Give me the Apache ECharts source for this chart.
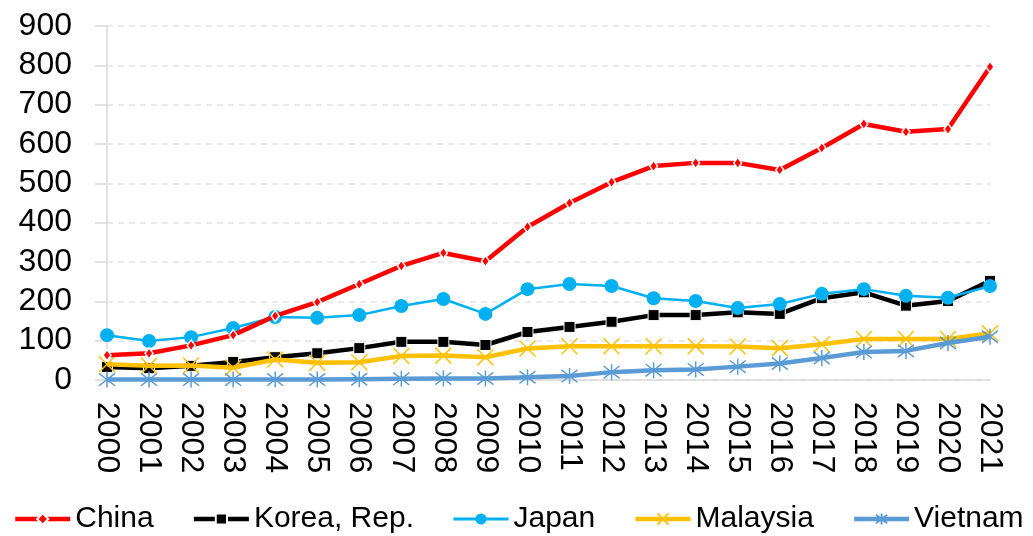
<!DOCTYPE html>
<html>
<head>
<meta charset="utf-8">
<script src="https://cdn.jsdelivr.net/npm/echarts@6/dist/echarts.min.js"></script>
<style>
  html, body { margin: 0; padding: 0; background: #fff; }
  #chart { width: 1033px; height: 536px; }
</style>
</head>
<body>
<div id="chart"></div>
<script>
// ======================
// DATA
// ======================
const years = ["2000", "2001", "2002", "2003", "2004", "2005", "2006", "2007", "2008", "2009", "2010",
    "2011", "2012", "2013", "2014", "2015", "2016", "2017", "2018", "2019", "2020", "2021"];

const china = [63, 68, 88, 114, 163, 198, 244, 290, 323, 302, 389,
    450, 503, 544, 552, 552, 534, 590, 651, 631, 638, 796];
const korea = [33, 30, 36, 46, 58, 68, 81, 97, 97, 89, 122,
    135, 148, 165, 165, 172, 168, 208, 223, 189, 201, 252];
const japan = [114, 99, 109, 132, 160, 158, 165, 188, 206, 168, 231,
    244, 239, 208, 201, 183, 193, 219, 231, 214, 209, 239];
const malaysia = [40, 36, 37, 31, 52, 44, 45, 61, 62, 58, 80,
    86, 86, 86, 86, 85, 81, 91, 104, 104, 104, 119];
const vietnam = [1, 1, 1, 1, 1, 1, 2, 3, 4, 4, 7,
    10, 20, 25, 27, 34, 42, 56, 71, 74, 94, 110];

// ======================
// STYLE
// ======================
const FONT = "'Liberation Sans', Arial, sans-serif";
const X_MARK = "path://M0,0L10,10M10,0L0,10";
const STAR_MARK = "path://M0,0L10,10M10,0L0,10M5,-1.5L5,11.5";

const chart = echarts.init(document.getElementById("chart"));
chart.setOption({
    backgroundColor: "#ffffff",
    animation: false,
    textStyle: { fontFamily: FONT, color: "#000" },
    grid: { left: 107, right: 43, top: 26, bottom: 156 },
    legend: {
        bottom: 2,
        left: 13,
        width: 1020,
        padding: 0,
        itemWidth: 55,
        itemHeight: 14,
        itemGap: 38,
        textStyle: { fontSize: 30, fontFamily: FONT, color: "#000" },
        data: [
            { name: "China", lineStyle: { width: 4.5 } },
            { name: "Korea, Rep.", lineStyle: { width: 4.5 } },
            { name: "Japan", lineStyle: { width: 3 } },
            { name: "Malaysia", lineStyle: { width: 4.5 } },
            { name: "Vietnam", lineStyle: { width: 4.5 } }
        ]
    },
    xAxis: {
        type: "category",
        data: years,
        boundaryGap: false,
        axisLine: { lineStyle: { color: "#d9d9d9", width: 1.5 } },
        axisTick: { show: false },
        axisLabel: { rotate: -90, fontSize: 32, margin: 22, color: "#000", fontFamily: FONT }
    },
    yAxis: {
        type: "value",
        min: 0,
        max: 900,
        interval: 100,
        axisLine: { show: true, lineStyle: { color: "#d9d9d9", width: 1.5 } },
        axisTick: { show: true, length: 12, lineStyle: { color: "#d9d9d9", width: 1.5 } },
        axisLabel: { fontSize: 32, margin: 35, color: "#000", fontFamily: FONT },
        splitLine: { lineStyle: { color: "#e3e3e3", width: 1.5, type: [6, 5] } }
    },
    series: [
        {
            name: "China",
            type: "line",
            data: china,
            z: 6,
            symbol: "diamond",
            symbolSize: [8, 11],
            lineStyle: { color: "#ff0000", width: 4.5 },
            itemStyle: { color: "#ff0000", borderColor: "#ffffff", borderWidth: 1.5 }
        },
        {
            name: "Korea, Rep.",
            type: "line",
            data: korea,
            z: 2,
            symbol: "rect",
            symbolSize: 11,
            lineStyle: { color: "#000000", width: 4.5 },
            itemStyle: { color: "#000000", borderColor: "#ffffff", borderWidth: 1 }
        },
        {
            name: "Japan",
            type: "line",
            data: japan,
            z: 3,
            symbol: "circle",
            symbolSize: 14,
            lineStyle: { color: "#00b0f0", width: 2.5 },
            itemStyle: { color: "#00b0f0" }
        },
        {
            name: "Malaysia",
            type: "line",
            data: malaysia,
            z: 4,
            symbol: X_MARK,
            symbolSize: 16,
            lineStyle: { color: "#ffc000", width: 4.5 },
            itemStyle: { color: "#ffc000", borderColor: "#ffc000", borderWidth: 1.5 }
        },
        {
            name: "Vietnam",
            type: "line",
            data: vietnam,
            z: 5,
            symbol: STAR_MARK,
            symbolSize: 16,
            lineStyle: { color: "#5b9bd5", width: 4.5 },
            itemStyle: { color: "#5b9bd5", borderColor: "#5b9bd5", borderWidth: 1.5 }
        }
    ]
});
</script>
</body>
</html>
